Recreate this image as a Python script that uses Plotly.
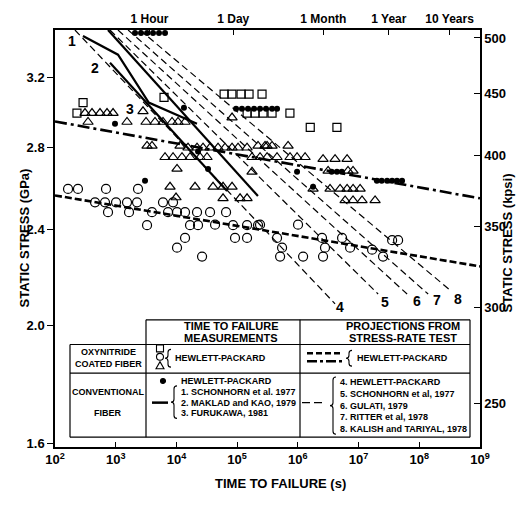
import numpy as np
import plotly.graph_objects as go

# ---------------- data (time to failure in s, static stress in GPa) ----------------
sq_t = [290, 230, 6250, 6.1e4, 8.2e4, 1.16e5, 1.57e5, 2.57e5, 1.46e5, 1.97e5, 2.67e5, 3.76e5, 7.4e5, 1.6e6, 4.4e6]
sq_s = [3.05, 2.99, 3.08, 3.10, 3.10, 3.10, 3.10, 3.10, 2.99, 2.99, 2.99, 2.99, 2.99, 2.91, 2.91]

ci_t = [164, 239, 692, 2330, 456, 666, 1012, 1535, 2244, 747, 1656, 3963, 7271, 10230, 13860, 21840,
        35790, 65650, 6009, 8796, 3280, 16750, 22690, 43280, 85560, 145600, 220800, 92250, 145600,
        13860, 10230, 26430, 238300, 1.007e6, 454100, 549500, 2.5e6, 5.35e6, 7.25e6, 1.67e7, 2.8e6,
        3.57e7, 4.48e7, 5.1e5, 1.22e6, 2.6e6, 2.53e7]
ci_s = [2.59, 2.59, 2.59, 2.59, 2.525, 2.525, 2.525, 2.525, 2.525, 2.478, 2.478, 2.478, 2.478, 2.478,
        2.478, 2.478, 2.478, 2.478, 2.525, 2.525, 2.418, 2.418, 2.418, 2.42, 2.418, 2.418, 2.418, 2.36,
        2.36, 2.36, 2.317, 2.278, 2.42, 2.42, 2.36, 2.317, 2.36, 2.36, 2.317, 2.308, 2.317, 2.35, 2.35,
        2.278, 2.278, 2.278, 2.278]

tr_t = [312, 407, 551, 719, 904, 350, 1535, 2816, 3157, 4438, 6009, 8470, 10620, 13860, 3280, 3963,
        11460, 15520, 21840, 27440, 35790, 48440, 63190, 82430, 103500, 145600, 220800, 311100,
        6488, 8796, 12360, 16750, 24490, 31920, 10230, 82430, 175900, 238300, 311100, 175900,
        7846, 20240, 40100, 58590, 82430, 9846, 58590, 111700, 145600,
        288100, 375800, 690300, 454100, 743300, 970100, 1.315e6, 2.6e6, 4.1e6, 6.47e6,
        3.15e6, 6.7e6, 8.1e6, 1.78e6, 3.39e6, 4.96e6, 6.47e6, 8.12e6, 1.06e7, 6.0e6, 8.1e6, 1.14e7, 1.87e7]
tr_s = [2.99, 2.99, 2.99, 2.99, 2.99, 2.94, 2.94, 3.00, 2.94, 2.94, 2.94, 2.94, 2.94, 2.94, 2.81, 2.81,
        2.81, 2.80, 2.80, 2.80, 2.80, 2.80, 2.80, 2.80, 2.80, 2.80, 2.81, 2.81,
        2.75, 2.75, 2.75, 2.75, 2.75, 2.75, 2.69, 2.965, 2.75, 2.75, 2.75, 2.675,
        2.60, 2.60, 2.60, 2.60, 2.60, 2.548, 2.544, 2.544, 2.544,
        2.81, 2.81, 2.81, 2.75, 2.75, 2.75, 2.75, 2.74, 2.74, 2.74,
        2.68, 2.68, 2.68, 2.59, 2.59, 2.59, 2.59, 2.59, 2.59, 2.534, 2.534, 2.534, 2.534]

hp_t = [2080, 2611, 3280, 4116, 5166, 6488, 13300, 973, 3040, 22700, 33200,
        96000, 1.2e5, 1.51e5, 1.9e5, 2.38e5, 2.99e5, 3.76e5, 4.54e5,
        2.0e7, 2.4e7, 2.95e7, 3.57e7, 4.3e7, 5.2e7, 3.6e6, 4.4e6, 5.3e6, 9.7e5, 1.78e6]
hp_s = [3.48, 3.48, 3.48, 3.48, 3.48, 3.48, 3.02, 2.93, 2.63, 2.78, 2.69,
        3.015, 3.015, 3.015, 3.015, 3.015, 3.015, 3.015, 3.015,
        2.63, 2.63, 2.63, 2.63, 2.63, 2.63, 2.675, 2.675, 2.675, 2.675, 2.60]

# measured curves 1-3 (conventional fiber)
l1_t = [289, 1090, 3500, 21800]; l1_s = [3.46, 3.34, 3.05, 2.93]
l2_t = [805, 68200];             l2_s = [3.29, 2.58]
l3_t = [747, 2.2e5];             l3_s = [3.50, 2.555]
# projections 4-8
p_t = {4: [213, 4.1e6], 5: [805, 2.1e7], 6: [1090, 6.3e7], 7: [1600, 1.4e8], 8: [2500, 3.2e8]}
p_s = {4: [3.50, 2.083], 5: [3.50, 2.122], 6: [3.50, 2.122], 7: [3.50, 2.122], 8: [3.50, 2.138]}
# Hewlett-Packard stress-rate projections for oxynitride coated fibre
pc_t = [100, 1e9]; pc_s = [2.558, 2.236]   # circles
pt_t = [100, 1e9]; pt_s = [2.943, 2.544]   # triangles

# curve labels
lab_txt = ["1", "2", "3", "4", "5", "6", "7", "8"]
lab_t = [191, 456, 1722, 4.96e6, 2.74e7, 9.2e7, 1.96e8, 4.35e8]
lab_s = [3.43, 3.255, 3.015, 2.071, 2.090, 2.094, 2.098, 2.102]

x_ticks = [1e2, 1e3, 1e4, 1e5, 1e6, 1e7, 1e8, 1e9]
x_text = ["10<sup>%d</sup>" % k for k in range(2, 10)]
top_ticks = [3600, 86400, 2.628e6, 3.156e7, 3.156e8]
top_text = ["1 Hour", "1 Day", "1 Month", "1 Year", "10 Years"]
gpa_ticks = [1.6, 2.0, 2.4, 2.8, 3.2]
kpsi_ticks = [250, 300, 350, 400, 450, 500]
GPA_TO_KPSI = 145.038
s_lo, s_hi = 1.588, 3.50

FONT = "Liberation Sans"
fig = go.Figure()

# projection lines 4-8
for k in range(4, 9):
    fig.add_trace(go.Scatter(x=p_t[k], y=p_s[k], mode="lines",
                             line=dict(color="black", width=1.2, dash="7px,4px")))
# HP projections
fig.add_trace(go.Scatter(x=pc_t, y=pc_s, mode="lines",
                         line=dict(color="black", width=2.6, dash="7px,3px")))
fig.add_trace(go.Scatter(x=pt_t, y=pt_s, mode="lines",
                         line=dict(color="black", width=2.6, dash="12px,4px,3px,4px")))
# measured solid lines
for tt, ss in [(l1_t, l1_s), (l2_t, l2_s), (l3_t, l3_s)]:
    fig.add_trace(go.Scatter(x=tt, y=ss, mode="lines", line=dict(color="black", width=2.2)))

mk_line = dict(color="black", width=1.2)
fig.add_trace(go.Scatter(x=sq_t, y=sq_s, mode="markers",
                         marker=dict(symbol="square-open", size=8, color="black", line=mk_line)))
fig.add_trace(go.Scatter(x=ci_t, y=ci_s, mode="markers",
                         marker=dict(symbol="circle-open", size=9, color="black", line=mk_line)))
fig.add_trace(go.Scatter(x=tr_t, y=tr_s, mode="markers",
                         marker=dict(symbol="triangle-up-open", size=9, color="black", line=mk_line)))
fig.add_trace(go.Scatter(x=hp_t, y=hp_s, mode="markers",
                         marker=dict(symbol="circle", size=6, color="black")))
# dummy traces to activate top and right axes
fig.add_trace(go.Scatter(x=[1e3], y=[2.0], xaxis="x2", yaxis="y", mode="markers",
                         marker=dict(opacity=0), hoverinfo="skip"))
fig.add_trace(go.Scatter(x=[1e3], y=[300], xaxis="x", yaxis="y2", mode="markers",
                         marker=dict(opacity=0), hoverinfo="skip"))

tick_font = dict(family=FONT, size=13, color="black", weight="bold")
fig.update_layout(
    width=532, height=512, showlegend=False,
    margin=dict(l=55, r=52, t=24, b=65),
    paper_bgcolor="white", plot_bgcolor="white",
    xaxis=dict(type="log", range=[2, 9], tickvals=x_ticks, ticktext=x_text, ticks="inside",
               ticklen=5, tickcolor="black", showline=True, linecolor="black", linewidth=1.5,
               showgrid=False, zeroline=False, tickfont=tick_font),
    xaxis2=dict(type="log", range=[2, 9], overlaying="x", side="top", tickvals=top_ticks,
                ticktext=top_text, ticks="inside", ticklen=5, tickcolor="black", showline=True,
                linecolor="black", linewidth=1.5, showgrid=False, zeroline=False,
                tickfont=dict(family=FONT, size=12, color="black", weight="bold")),
    yaxis=dict(type="log", range=[np.log10(s_lo), np.log10(s_hi)], tickvals=gpa_ticks,
               ticktext=["%.1f" % v for v in gpa_ticks], ticks="outside", ticklen=6,
               tickcolor="black", showline=True, linecolor="black", linewidth=1.5,
               showgrid=False, zeroline=False, tickfont=tick_font),
    yaxis2=dict(type="log", range=[np.log10(s_lo * GPA_TO_KPSI), np.log10(s_hi * GPA_TO_KPSI)],
                overlaying="y", side="right", tickvals=kpsi_ticks,
                ticktext=[str(v) for v in kpsi_ticks], ticks="inside", ticklen=6,
                tickcolor="black", showline=True, linecolor="black", linewidth=1.5,
                showgrid=False, zeroline=False, tickfont=tick_font),
)

# curve number labels
for txt_, tt, ss in zip(lab_txt, lab_t, lab_s):
    fig.add_annotation(x=np.log10(tt), y=np.log10(ss), xref="x", yref="y", text=txt_,
                       showarrow=False, font=dict(family=FONT, size=14, color="black", weight="bold"))

# ---------- axis titles ----------
def PX(px):
    return (px - 55) / 425.0

def PY(py):
    return (447 - py) / 423.0

title_font = dict(family=FONT, size=13, color="black", weight="bold")
fig.add_annotation(x=PX(280), y=PY(494), xref="paper", yref="paper", text="TIME TO FAILURE (s)",
                   showarrow=False, font=title_font)
fig.add_annotation(x=PX(15), y=PY(235), xref="paper", yref="paper", text="STATIC STRESS (GPa)",
                   textangle=-90, showarrow=False, font=title_font)
fig.add_annotation(x=PX(517), y=PY(240), xref="paper", yref="paper", text="STATIC STRESS (kpsi)",
                   textangle=-90, showarrow=False, font=title_font)

# ---------- legend table ----------
L, A, M, E = 70, 146, 300, 470
T0, T1, T2, T3 = 318, 343, 372, 437
shapes = []
def rect(x0, y0, x1, y1):
    shapes.append(dict(type="rect", xref="paper", yref="paper", x0=PX(x0), x1=PX(x1),
                       y0=PY(y1), y1=PY(y0), fillcolor="white", line=dict(width=0)))
def hline(x0, x1, y, w=1.2, dash=None):
    shapes.append(dict(type="line", xref="paper", yref="paper", x0=PX(x0), x1=PX(x1),
                       y0=PY(y), y1=PY(y), line=dict(color="black", width=w, dash=dash)))
def vline(x, y0, y1, w=1.2):
    shapes.append(dict(type="line", xref="paper", yref="paper", x0=PX(x), x1=PX(x),
                       y0=PY(y0), y1=PY(y1), line=dict(color="black", width=w)))
def brace(x, y0, y1, w=1.1):
    ym = (y0 + y1) / 2.0
    d = 3
    pts = ("M {a},{b} Q {c},{b} {c},{e} L {c},{f} Q {c},{g} {h},{g} Q {c},{g} {c},{i} L {c},{j} Q {c},{k} {a},{k}"
           .format(a=PX(x + d), b=PY(y0), c=PX(x), e=PY(y0 + d), f=PY(ym - d), g=PY(ym),
                   h=PX(x - d), i=PY(ym + d), j=PY(y1 - d), k=PY(y1)))
    shapes.append(dict(type="path", xref="paper", yref="paper", path=pts,
                       line=dict(color="black", width=w)))
def sym(px, py, symbol, size, filled=False):
    # legend sample marker drawn as a small shape
    h = size / 2.0
    if symbol == "square":
        shapes.append(dict(type="rect", xref="paper", yref="paper", x0=PX(px - h), x1=PX(px + h),
                           y0=PY(py + h), y1=PY(py - h), line=dict(color="black", width=1.1)))
    elif symbol == "circle":
        shapes.append(dict(type="circle", xref="paper", yref="paper", x0=PX(px - h), x1=PX(px + h),
                           y0=PY(py + h), y1=PY(py - h), line=dict(color="black", width=1.1),
                           fillcolor="black" if filled else None))
    else:
        path = "M {},{} L {},{} L {},{} Z".format(PX(px - h), PY(py + h * 0.8), PX(px + h),
                                                  PY(py + h * 0.8), PX(px), PY(py - h))
        shapes.append(dict(type="path", xref="paper", yref="paper", path=path,
                           line=dict(color="black", width=1.1)))

rect(A, T0, E, T1)
rect(L, T1, E, T3)
hline(A, E, T0); hline(L, E, T1); hline(L, E, T2); hline(L, E, T3)
vline(L, T1, T3); vline(A, T0, T3); vline(M, T0, T3); vline(E, T0, T3)
# sample lines
hline(307, 342, 352, w=2.5, dash="6px,3px")
hline(307, 342, 360, w=2.5, dash="10px,3px,3px,3px")
hline(152, 168, 402, w=2.5)
hline(302, 324, 402, w=1.4, dash="8px,4px")
brace(168, 348, 366)
brace(349, 349, 365)
brace(174, 385, 418)
brace(333, 376, 434)
sym(160, 347, "square", 7)
sym(160, 355.5, "circle", 7)
sym(160, 364.5, "triangle", 8)
sym(163, 380, "circle", 5, filled=True)
fig.update_layout(shapes=shapes)

def txt(px, py, s, size=9, anchor="left", bold=True):
    fig.add_annotation(x=PX(px), y=PY(py), xref="paper", yref="paper", text=s, showarrow=False,
                       xanchor=anchor, yanchor="middle",
                       font=dict(family=FONT, size=size, color="black",
                                 weight="bold" if bold else "normal"))

txt(231, 324, "TIME TO FAILURE", 11, "center")
txt(231, 336, "MEASUREMENTS", 11, "center")
txt(403, 324, "PROJECTIONS FROM", 11, "center")
txt(403, 336, "STRESS-RATE TEST", 11, "center")
txt(108, 351, "OXYNITRIDE", 9, "center")
txt(108, 363, "COATED FIBER", 9, "center")
txt(108, 391, "CONVENTIONAL", 9, "center")
txt(108, 413, "FIBER", 9, "center")
txt(173, 357, "HEWLETT-PACKARD", 9)
txt(355, 357, "HEWLETT-PACKARD", 9)
txt(179, 380, "HEWLETT-PACKARD", 9)
txt(179, 391, "1. SCHONHORN et al. 1977", 9)
txt(179, 402, "2. MAKLAD and KAO, 1979", 9)
txt(179, 413, "3. FURUKAWA, 1981", 9)
txt(338, 381, "4. HEWLETT-PACKARD", 9)
txt(338, 393, "5. SCHONHORN et al, 1977", 9)
txt(338, 405, "6. GULATI, 1979", 9)
txt(338, 417, "7. RITTER et al, 1978", 9)
txt(338, 429, "8. KALISH and TARIYAL, 1978", 9)

fig.write_html("out.html")
